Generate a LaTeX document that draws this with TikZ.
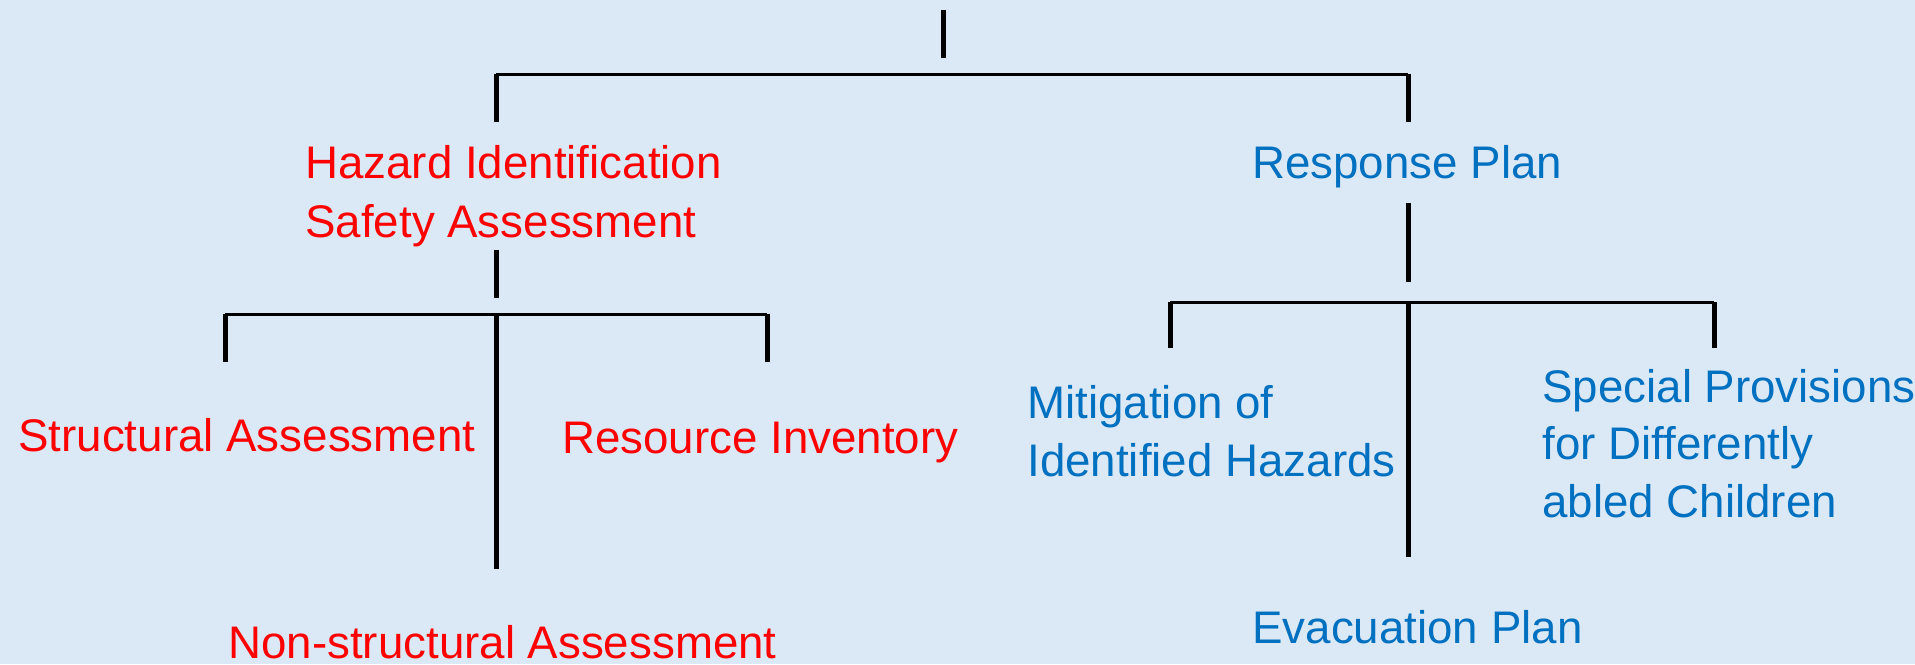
\documentclass[tikz,border=0pt]{standalone}
\usepackage{fontspec}
\setmainfont{Liberation Sans}
\usetikzlibrary{positioning}
\definecolor{bgblue}{RGB}{219,233,247}
\definecolor{hzred}{RGB}{255,0,0}
\definecolor{rpblue}{RGB}{0,112,192}
\tikzstyle{hz_text}=[anchor=base west, inner sep=0pt, align=left, text=hzred,
    font=\fontsize{26}{33}\selectfont]
\tikzstyle{rp_text}=[hz_text, text=rpblue]
\tikzstyle{stem}=[draw, line width=0.1cm]
\tikzstyle{bar}=[draw, line width=0.06cm]
\def\barleft{74}
\def\barright{302}

\begin{document}
\begin{tikzpicture}[x=0.02cm,y=-0.02cm]
	\useasboundingbox (0,0) rectangle (1915,664);
	\fill[bgblue] (0,0) rectangle (1915,664);

	% Define the nodes in the picture (multi-line ones sit on their last line)
	\node (haz_id) [hz_text, font=\fontsize{26}{33.5}\selectfont] at (305,237) {Hazard Identification\\Safety Assessment};
	\node (resp_plan) [rp_text] at (1252,178) {Response Plan};
	\node (struct_asm) [hz_text] at (18,451) {Structural Assessment};
	\node (res_inv) [hz_text] at (562,453) {Resource Inventory};
	\node (nonstr_asm) [hz_text] at (228,658) {Non-structural Assessment};
	\node (mitig) [rp_text, font=\fontsize{26}{32.5}\selectfont] at (1027,476) {Mitigation of\\Identified Hazards};
	\node (spec_prov) [rp_text, font=\fontsize{26}{32.5}\selectfont] at (1542,517) {Special Provisions\\for Differently\\abled Children};
	\node (evac_plan) [rp_text] at (1252,643) {Evacuation Plan};

	% Define the connector ends
	\coordinate (top_a) at (943,10);
	\coordinate (top_b) at (943,58);
	\coordinate (top_l) at (496,\barleft);
	\coordinate (top_r) at (1408,\barleft);
	\coordinate (haz_a) at (496,250);
	\coordinate (haz_b) at (496,298);
	\coordinate (sub_l) at (225,314);
	\coordinate (sub_m) at (496,314);
	\coordinate (sub_r) at (767,314);
	\coordinate (resp_a) at (1408,203);
	\coordinate (resp_b) at (1408,282);
	\coordinate (sub2_l) at (1170,\barright);
	\coordinate (sub2_m) at (1408,\barright);
	\coordinate (sub2_r) at (1714,\barright);

	% Define the edges in the picture
	\path [stem] (top_a) -- (top_b);
	\path [bar] (top_l) -- (top_r);
	\path [stem] (top_l) -- +(0,48);
	\path [stem] (top_r) -- +(0,48);

	\path [stem] (haz_a) -- (haz_b);
	\path [bar] (sub_l) -- (sub_r);
	\path [stem] (sub_l) -- +(0,48);
	\path [stem] (sub_m) -- +(0,255);
	\path [stem] (sub_r) -- +(0,48);

	\path [stem] (resp_a) -- (resp_b);
	\path [bar] (sub2_l) -- (sub2_r);
	\path [stem] (sub2_l) -- +(0,46);
	\path [stem] (sub2_m) -- +(0,255);
	\path [stem] (sub2_r) -- +(0,46);
\end{tikzpicture}
\end{document}
